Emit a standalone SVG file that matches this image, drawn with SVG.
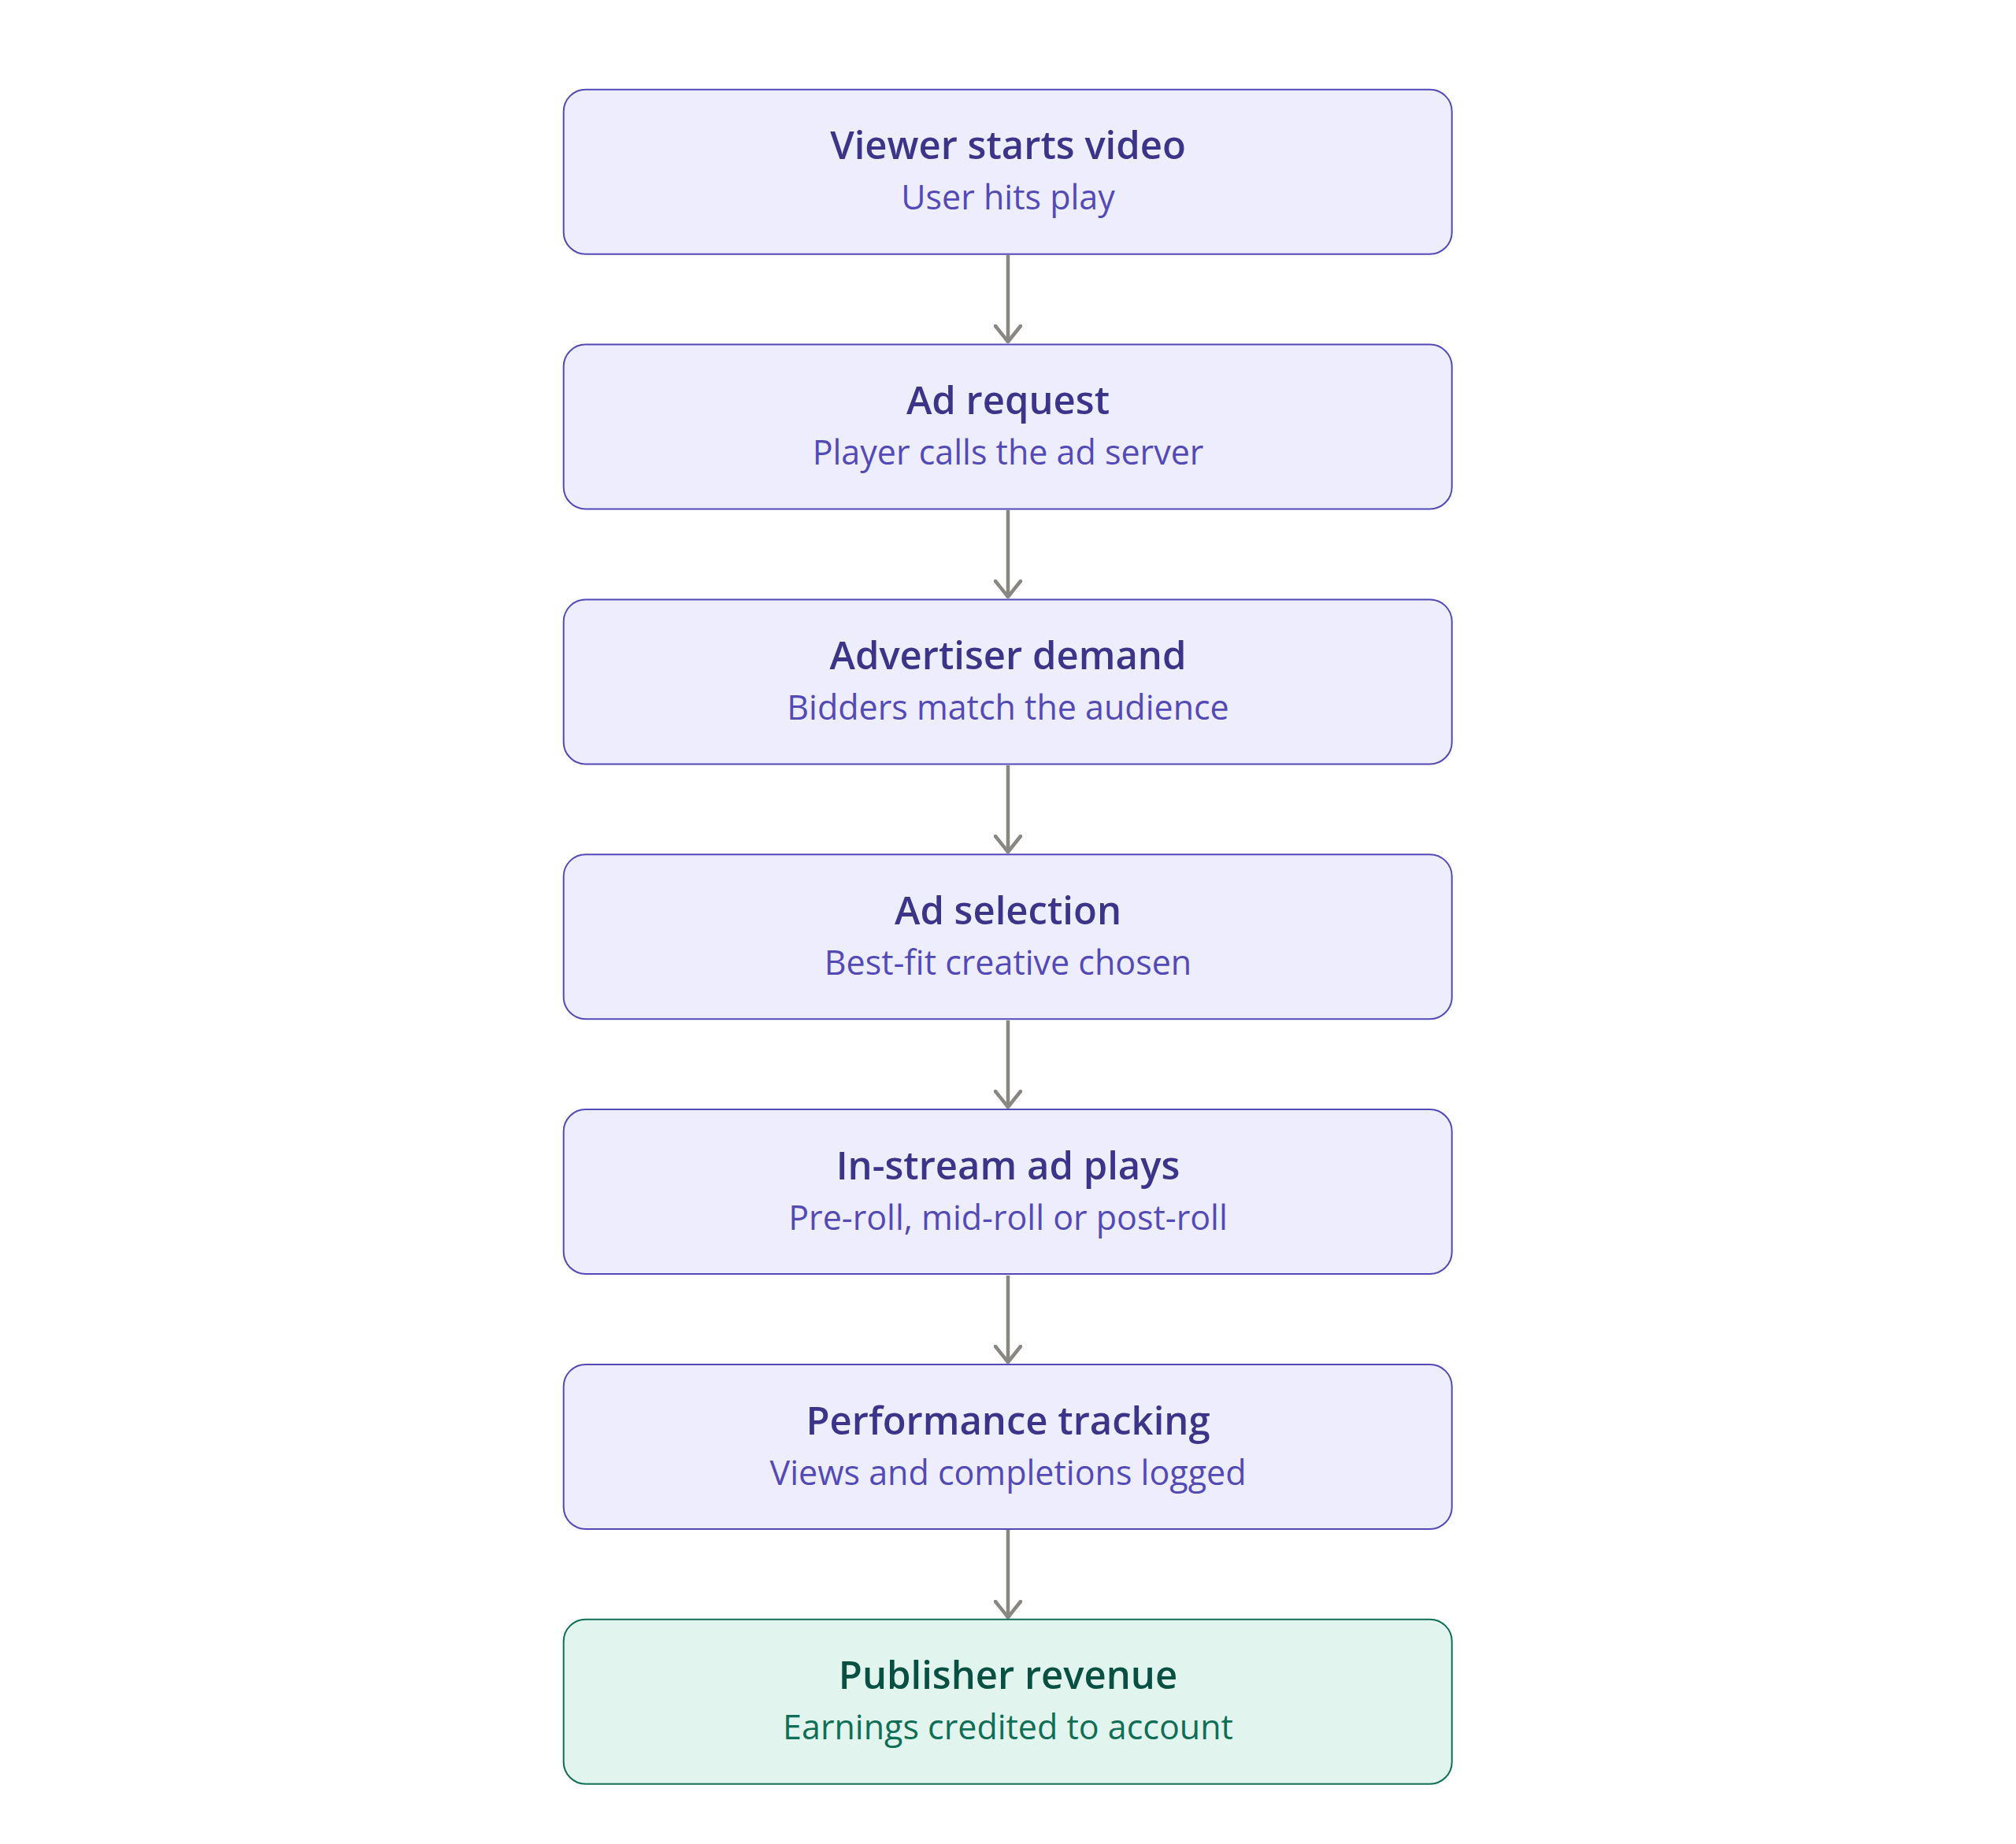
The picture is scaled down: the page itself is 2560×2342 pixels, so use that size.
<svg xmlns="http://www.w3.org/2000/svg" width="2560" height="2342" viewBox="0 0 2560 2342">
<defs>
<style>
.box{fill:#eeedfe;stroke:#534ab7;stroke-width:2}
.ok .box{fill:#e1f5ee;stroke:#0f6e56}
.t{font-family:"Open Sans","Noto Sans","Liberation Sans",sans-serif;font-weight:600;font-size:49px;fill:#3c3489;text-anchor:middle}
.s{font-family:"Open Sans","Noto Sans","Liberation Sans",sans-serif;font-weight:400;font-size:43px;fill:#534ab7;text-anchor:middle}
.ok .t{fill:#085041}
.ok .s{fill:#0f6e56}
.edge{stroke:#888780;stroke-width:4.5;fill:none;marker-end:url(#arr)}
</style>
<marker id="arr" viewBox="0 0 24 36" refX="22" refY="18" markerWidth="24" markerHeight="36" markerUnits="userSpaceOnUse" orient="auto">
<path d="M2 2 L22 18 L2 34" fill="none" stroke="#888780" stroke-width="4.5" stroke-linecap="round" stroke-linejoin="round"/>
</marker>
</defs>
<rect width="2560" height="2342" fill="#ffffff"/>
<g id="connectors">
<line class="edge" x1="1280" y1="324" x2="1280" y2="434"/>
<line class="edge" x1="1280" y1="648" x2="1280" y2="758"/>
<line class="edge" x1="1280" y1="972" x2="1280" y2="1082"/>
<line class="edge" x1="1280" y1="1296" x2="1280" y2="1406"/>
<line class="edge" x1="1280" y1="1620" x2="1280" y2="1730"/>
<line class="edge" x1="1280" y1="1943" x2="1280" y2="2054"/>
</g>
<g id="n1"><rect class="box" x="715.7" y="113.7" width="1128" height="209" rx="28"/><text class="t" x="1280" y="202">Viewer starts video</text><text class="s" x="1280" y="266">User hits play</text></g>
<g id="n2"><rect class="box" x="715.7" y="437.5" width="1128" height="209" rx="28"/><text class="t" x="1280" y="526">Ad request</text><text class="s" x="1280" y="590">Player calls the ad server</text></g>
<g id="n3"><rect class="box" x="715.7" y="761.4" width="1128" height="209" rx="28"/><text class="t" x="1280" y="850">Advertiser demand</text><text class="s" x="1280" y="914">Bidders match the audience</text></g>
<g id="n4"><rect class="box" x="715.7" y="1085.2" width="1128" height="209" rx="28"/><text class="t" x="1280" y="1174">Ad selection</text><text class="s" x="1280" y="1238">Best-fit creative chosen</text></g>
<g id="n5"><rect class="box" x="715.7" y="1409" width="1128" height="209" rx="28"/><text class="t" x="1280" y="1498">In-stream ad plays</text><text class="s" x="1280" y="1562">Pre-roll, mid-roll or post-roll</text></g>
<g id="n6"><rect class="box" x="715.7" y="1732.9" width="1128" height="209" rx="28"/><text class="t" x="1280" y="1822">Performance tracking</text><text class="s" x="1280" y="1886">Views and completions logged</text></g>
<g id="n7" class="ok"><rect class="box" x="715.7" y="2056.7" width="1128" height="209" rx="28"/><text class="t" x="1280" y="2145">Publisher revenue</text><text class="s" x="1280" y="2209">Earnings credited to account</text></g>
</svg>
